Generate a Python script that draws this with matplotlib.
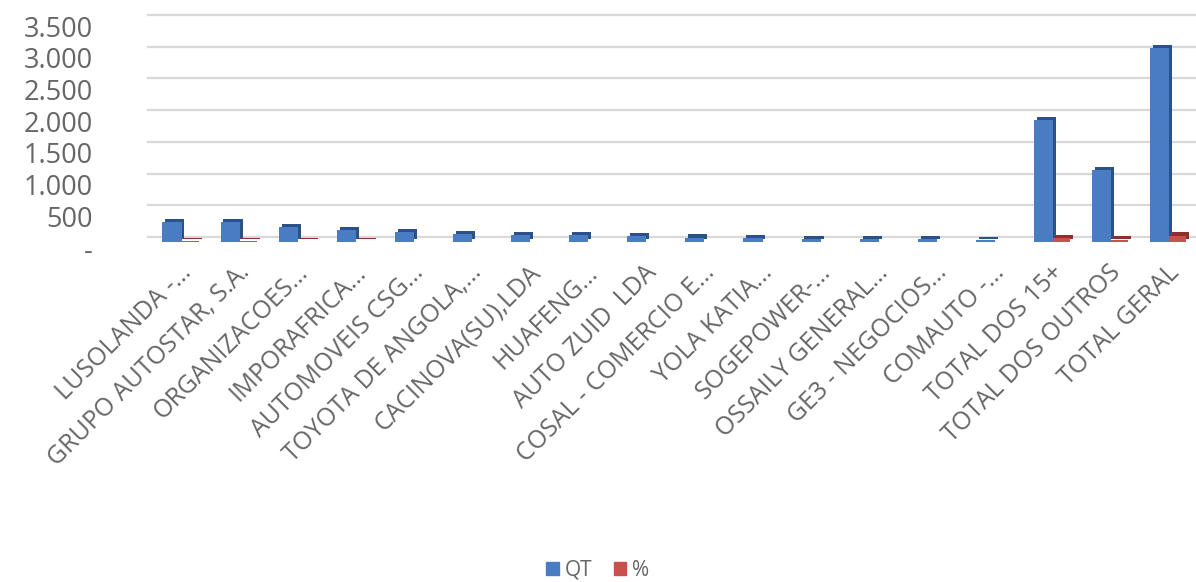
import numpy as np
from matplotlib import pyplot as plt
from matplotlib.patches import Patch
import matplotlib.transforms as mtransforms

plt.rcParams['font.family'] = ['Open Sans', 'DejaVu Sans']

categories = ['LUSOLANDA -\u2026', 'GRUPO AUTOSTAR, S.A.', 'ORGANIZACOES\u2026',
              'IMPORAFRICA\u2026', 'AUTOMOVEIS CSG\u2026', 'TOYOTA DE ANGOLA,\u2026',
              'CACINOVA(SU),LDA', 'HUAFENG\u2026', 'AUTO ZUID  LDA',
              'COSAL - COMERCIO E\u2026', 'YOLA KATIA\u2026', 'SOGEPOWER-\u2026',
              'OSSAILY GENERAL\u2026', 'GE3 - NEGOCIOS\u2026', 'COMAUTO -\u2026',
              'TOTAL DOS 15+', 'TOTAL DOS OUTROS', 'TOTAL GERAL']
qt = [320, 310, 235, 190, 155, 120, 110, 105, 95, 70, 60, 50, 45, 40, 35,
      1925, 1135, 3060]
pct = [10.5, 10.1, 7.7, 6.2, 5.1, 3.9, 3.6, 3.4, 3.1, 2.3, 2.0, 1.6, 1.5, 1.3, 1.1,
       62.9, 37.1, 100.0]
yticks = [0, 500, 1000, 1500, 2000, 2500, 3000, 3500]
ytick_labels = ['-', '500', '1.000', '1.500', '2.000', '2.500', '3.000', '3.500']

blue, blue_dark = '#4A7CC3', '#2B5286'
red, red_dark = '#C9504D', '#8E2F2C'
text_col = '#666666'

fig = plt.figure(figsize=(11.96, 5.82), dpi=100)
ax = fig.add_axes([148/1196, 1-242/582, 1048/1196, 222/582])

x = np.arange(len(categories))
depth_x = 0.05   # fake 3D side
depth_y = 50     # fake 3D top

# back faces (darker) then front faces
ax.bar(x - 0.155 + depth_x, qt, 0.33, bottom=depth_y, color=blue_dark, zorder=2)
ax.bar(x + 0.155 + depth_x, pct, 0.30, bottom=depth_y, color=red_dark, zorder=2)
ax.bar(x - 0.155, qt, 0.33, color=blue, zorder=3)
ax.bar(x + 0.155, pct, 0.30, color=red, zorder=4)

ax.set_xlim(-0.568, 17.47)
ax.set_ylim(0, 3500)
ax.set_yticks(yticks)
ax.set_yticklabels(ytick_labels, fontsize=19.5, color=text_col)
ax.tick_params(axis='y', length=0, pad=40)
for s in ax.spines.values():
    s.set_visible(False)

# gridlines sit on the back wall, a bit above the bar floor
back_wall = ax.transData + mtransforms.ScaledTranslation(0, 5/100, fig.dpi_scale_trans)
for v in yticks:
    ax.plot([-0.568, 17.47], [v, v], color='#D9D9D9', linewidth=1.6,
            transform=back_wall, zorder=0, clip_on=False)

ax.set_xticks(x)
ax.set_xticklabels(categories, rotation=45, ha='right', va='top',
                   rotation_mode='anchor', fontsize=18, color=text_col)
ax.tick_params(axis='x', length=0, pad=0)

# shift labels like the 3D floor offset
dy_lab = mtransforms.ScaledTranslation(0, -6/100, fig.dpi_scale_trans)
for lab in ax.get_yticklabels():
    lab.set_transform(lab.get_transform() + dy_lab)
dx_lab = mtransforms.ScaledTranslation(-2/100, -18/100, fig.dpi_scale_trans)
for lab in ax.get_xticklabels():
    lab.set_transform(lab.get_transform() + dx_lab)

handles = [Patch(color=blue, label='QT'), Patch(color=red, label='%')]
fig.legend(handles=handles, loc='lower center', bbox_to_anchor=(0.5, -0.03),
           ncol=2, frameon=False, fontsize=15, handlelength=0.6,
           handleheight=0.6, handletextpad=0.3, columnspacing=1.0,
           labelcolor=text_col)

plt.savefig('out.png', dpi=100)
